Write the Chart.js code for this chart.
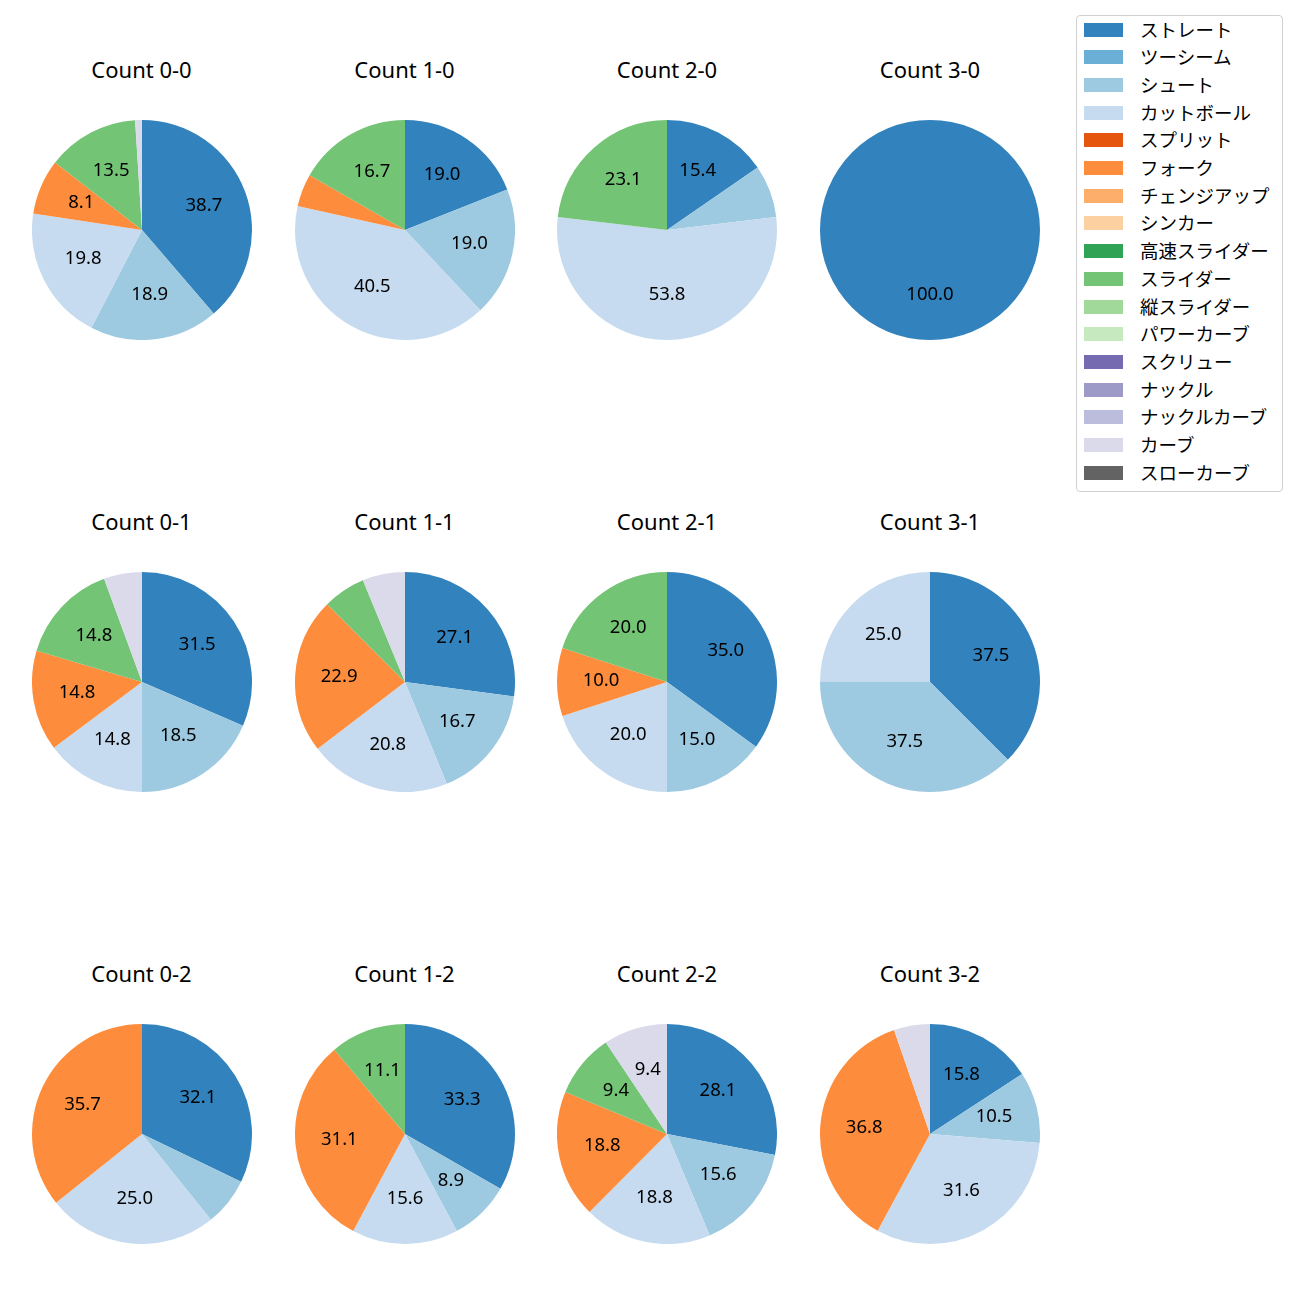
<!DOCTYPE html>
<html>
<head>
<meta charset="utf-8">
<script src="https://cdn.jsdelivr.net/npm/chart.js@4.4.2/dist/chart.umd.min.js"></script>
<style>
  html, body { margin: 0; padding: 0; background: #fff; }
  #fig { position: relative; width: 1300px; height: 1300px; font-family: "Noto Sans", "Noto Sans CJK JP", sans-serif; color: #000; }
  .pie { position: absolute; width: 220px; height: 220px; }
  .title { position: absolute; width: 260px; text-align: center; font-size: 22px; line-height: 26px; }
  #legend { position: absolute; left: 1076px; top: 15px; width: 205px; height: 475px; border: 1px solid #d0d0d0; border-radius: 4px; background: #fff; }
  .row { position: absolute; left: 0; height: 24px; width: 100%; }
  .sw { position: absolute; left: 7px; top: 5px; width: 39px; height: 14px; }
  .lbl { position: absolute; left: 63px; top: 0; font-size: 18.5px; line-height: 24px; white-space: nowrap; }
</style>
</head>
<body>
<div id="fig"><div id="legend"></div></div>
<script>
// pitch types (legend order) and tab20c colours
const PITCHES = ['ストレート','ツーシーム','シュート','カットボール','スプリット','フォーク','チェンジアップ','シンカー',
  '高速スライダー','スライダー','縦スライダー','パワーカーブ','スクリュー','ナックル','ナックルカーブ','カーブ','スローカーブ'];
const COLORS = ['#3182bd','#6baed6','#9ecae1','#c6dbef','#e6550d','#fd8d3c','#fdae6b','#fdd0a2',
  '#31a354','#74c476','#a1d99b','#c7e9c0','#756bb1','#9e9ac8','#bcbddc','#dadaeb','#636363'];

// share (%) per pitch type, same order as PITCHES
const count00 = [38.7,0,18.9,19.8,0,8.1,0,0,0,13.5,0,0,0,0,0,1.0,0];
const count10 = [19.0,0,19.0,40.5,0,4.8,0,0,0,16.7,0,0,0,0,0,0,0];
const count20 = [15.4,0,7.7,53.8,0,0,0,0,0,23.1,0,0,0,0,0,0,0];
const count30 = [100,0,0,0,0,0,0,0,0,0,0,0,0,0,0,0,0];
const count01 = [31.5,0,18.5,14.8,0,14.8,0,0,0,14.8,0,0,0,0,0,5.6,0];
const count11 = [27.1,0,16.7,20.8,0,22.9,0,0,0,6.25,0,0,0,0,0,6.25,0];
const count21 = [35.0,0,15.0,20.0,0,10.0,0,0,0,20.0,0,0,0,0,0,0,0];
const count31 = [37.5,0,37.5,25.0,0,0,0,0,0,0,0,0,0,0,0,0,0];
const count02 = [32.1,0,7.1,25.0,0,35.7,0,0,0,0,0,0,0,0,0,0,0];
const count12 = [33.3,0,8.9,15.6,0,31.1,0,0,0,11.1,0,0,0,0,0,0,0];
const count22 = [28.1,0,15.6,18.8,0,18.8,0,0,0,9.4,0,0,0,0,0,9.4,0];
const count32 = [15.8,0,10.5,31.6,0,36.8,0,0,0,0,0,0,0,0,0,5.3,0];

const TITLES = [
  ['Count 0-0','Count 1-0','Count 2-0','Count 3-0'],
  ['Count 0-1','Count 1-1','Count 2-1','Count 3-1'],
  ['Count 0-2','Count 1-2','Count 2-2','Count 3-2'],
];
const SERIES = [
  [count00, count10, count20, count30],
  [count01, count11, count21, count31],
  [count02, count12, count22, count32],
];

const COL_X = [141.5, 404.5, 667, 930];
const ROW_Y = [230, 682, 1134];
const TITLE_Y = [69, 521, 973];
const R = 110;

// percentage text at 0.6 r, hidden for small slices
const pctLabels = {
  id: 'pctLabels',
  afterDatasetsDraw(chart) {
    const ctx = chart.ctx;
    const vals = chart.data.datasets[0].data;
    const total = vals.reduce((a, b) => a + b, 0);
    ctx.save();
    ctx.font = '18.5px "Noto Sans", "Noto Sans CJK JP", sans-serif';
    ctx.fillStyle = '#000';
    ctx.textAlign = 'center';
    ctx.textBaseline = 'middle';
    chart.getDatasetMeta(0).data.forEach((arc, i) => {
      const pct = vals[i] / total * 100;
      if (pct < 8) return;
      const { x, y, startAngle, endAngle, outerRadius } = arc.getProps(['x','y','startAngle','endAngle','outerRadius'], true);
      const a = (startAngle + endAngle) / 2;
      ctx.fillText(pct.toFixed(1), x + Math.cos(a) * outerRadius * 0.6, y + Math.sin(a) * outerRadius * 0.6 - 1);
    });
    ctx.restore();
  }
};

const fig = document.getElementById('fig');
SERIES.forEach((row, r) => {
  row.forEach((vals, c) => {
    const t = document.createElement('div');
    t.className = 'title';
    t.textContent = TITLES[r][c];
    t.style.left = (COL_X[c] - 130) + 'px';
    t.style.top = (TITLE_Y[r] - 13) + 'px';
    fig.appendChild(t);

    const cv = document.createElement('canvas');
    cv.className = 'pie';
    cv.width = 2 * R; cv.height = 2 * R;
    cv.style.left = (COL_X[c] - R) + 'px';
    cv.style.top = (ROW_Y[r] - R) + 'px';
    fig.appendChild(cv);

    new Chart(cv, {
      type: 'pie',
      data: {
        labels: PITCHES,
        datasets: [{ data: vals, backgroundColor: COLORS, borderWidth: 0 }],
      },
      options: {
        responsive: false, animation: false, devicePixelRatio: 1,
        layout: { padding: 0 },
        plugins: { legend: { display: false }, tooltip: { enabled: false } },
      },
      plugins: [pctLabels],
    });
  });
});

// legend
const legend = document.getElementById('legend');
PITCHES.forEach((name, i) => {
  const row = document.createElement('div');
  row.className = 'row';
  row.style.top = (1.5 + i * 27.7) + 'px';
  row.innerHTML = `<span class="sw" style="background:${COLORS[i]}"></span><span class="lbl">${name}</span>`;
  legend.appendChild(row);
});
</script>
</body>
</html>
